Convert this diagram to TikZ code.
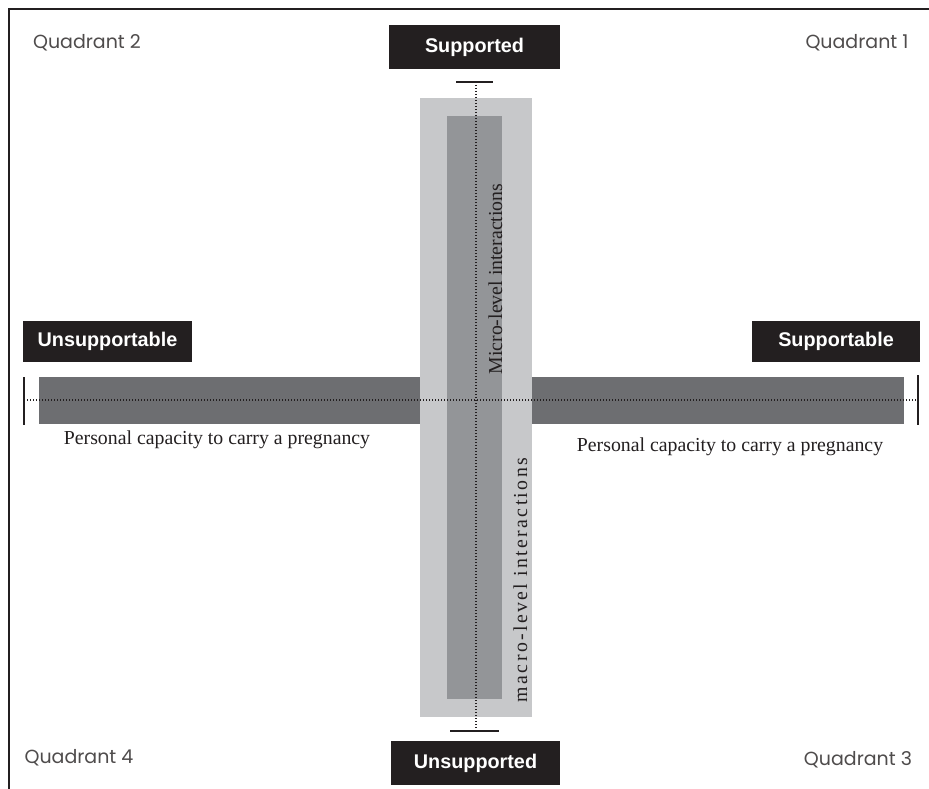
\documentclass[tikz,border=0pt]{standalone}
\usepackage{fontspec}
\setmainfont{Liberation Serif}
\newfontfamily\boxfont{Liberation Sans}
\newfontfamily\quadfont{Poppins}
\newfontfamily\spacedserif[LetterSpace=12]{Liberation Serif}
\definecolor{framec}{HTML}{231F20}
\definecolor{outerg}{HTML}{C7C8CA}
\definecolor{innerg}{HTML}{939598}
\definecolor{barg}{HTML}{6D6E71}
\tikzset{
  blackbox/.style={fill=framec, text=white, font=\boxfont\bfseries\fontsize{19.8}{22}\selectfont, inner sep=0pt, minimum height=42pt},
  quadlabel/.style={font=\quadfont\fontsize{19}{21}\selectfont, text=framec!80, inner sep=0pt},
  seriflabel/.style={font=\fontsize{19.8}{22}\selectfont, text=framec, inner sep=0pt},
  axisdots/.style={line width=1.3pt, dash pattern=on 1.2pt off 1.8pt, framec},
  endtick/.style={line width=1.5pt, framec},
}
\begin{document}
\begin{tikzpicture}[x=1pt,y=-1pt]
\useasboundingbox (0,0) rectangle (929,789);
\fill[white] (0,0) rectangle (929,789);
% frame
\draw[framec, line width=2pt] (9,789) -- (9,9) -- (929,9);
% horizontal bar
\fill[barg] (39,377) rectangle (904,424);
% vertical bands
\fill[outerg] (420,98) rectangle (532,717);
\fill[innerg] (447,116) rectangle (502,699);
% end coordinates
\coordinate (lt) at (24,377); \coordinate (lb) at (24,425); \coordinate (lm) at (24,400);
\coordinate (rt) at (918,375); \coordinate (rb) at (918,425); \coordinate (rm) at (918,400);
\coordinate (tl) at (456,82); \coordinate (tr) at (493,82); \coordinate (tm) at (476,82);
\coordinate (bl) at (450,731); \coordinate (br) at (499,731); \coordinate (bm) at (476,731);
\draw[axisdots] (lm) -- (rm);
\draw[axisdots] (tm) -- (bm);
\draw[endtick] (lt) -- (lb);
\draw[endtick] (rt) -- (rb);
\draw[endtick] (tl) -- (tr);
\draw[endtick] (bl) -- (br);
% boxes
\node[blackbox, minimum width=171pt, minimum height=44pt] (sup) at (474.5,47) {Supported};
\node[blackbox, minimum width=169pt, minimum height=44pt] (unsup) at (475.5,763) {Unsupported};
\node[blackbox, minimum width=169pt, minimum height=41pt] (unsupp) at (107.5,341.5) {Unsupportable};
\node[blackbox, minimum width=168pt, minimum height=41pt] (supp) at (836,341.5) {Supportable};
% quadrant labels
\node[quadlabel] (q2) at (87,43) {Quadrant 2};
\node[quadlabel] (q1) at (857,43) {Quadrant 1};
\node[quadlabel] (q4) at (79,758) {Quadrant 4};
\node[quadlabel] (q3) at (858,760) {Quadrant 3};
% serif labels
\node[seriflabel, anchor=base] (pl) at (217,444) {Personal capacity to carry a pregnancy};
\node[seriflabel, anchor=base] (pr) at (730,451) {Personal capacity to carry a pregnancy};
\node[seriflabel, rotate=90, anchor=base] (micro) at (502,279) {Micro-level interactions};
\node[seriflabel, font=\spacedserif\fontsize{19.8}{22}\selectfont, rotate=90, anchor=base] (macro) at (527,580) {macro-level interactions};
\end{tikzpicture}
\end{document}
